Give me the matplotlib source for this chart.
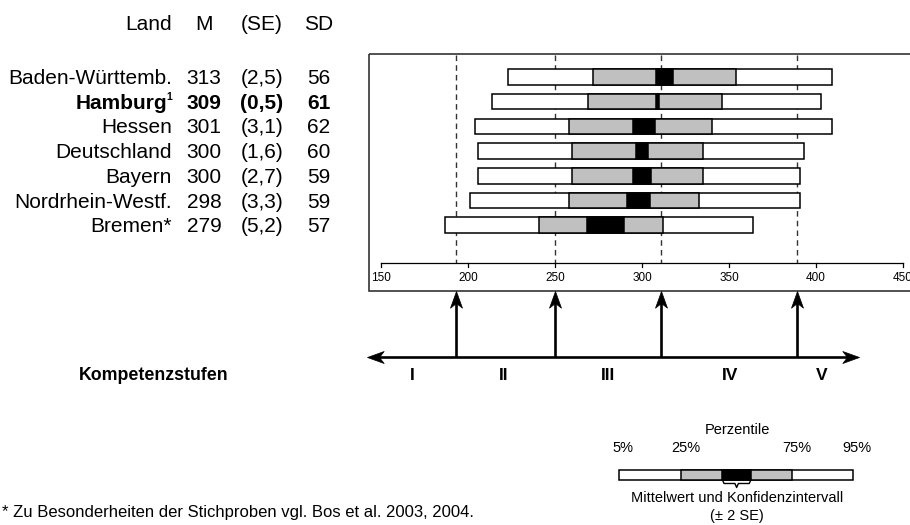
import numpy as np
import matplotlib
matplotlib.use("Agg")
import matplotlib.pyplot as plt
from matplotlib.patches import Rectangle
from matplotlib.path import Path
from matplotlib.markers import MarkerStyle
from matplotlib.transforms import Affine2D

plt.rcParams['font.family'] = ['Liberation Sans', 'DejaVu Sans']

# Daten
laender = ["Baden-Württemb.", "Hamburg", "Hessen", "Deutschland", "Bayern", "Nordrhein-Westf.", "Bremen*"]
mittel = [313, 309, 301, 300, 300, 298, 279]
se = [2.5, 0.5, 3.1, 1.6, 2.7, 3.3, 5.2]
sd = [56, 61, 62, 60, 59, 59, 57]
p05 = [223, 214, 204, 206, 206, 201, 187]
p25 = [272, 269, 258, 260, 260, 258, 241]
p75 = [354, 346, 340, 335, 335, 333, 312]
p95 = [409, 403, 409, 393, 391, 391, 364]

stufen_grenzen = [193, 250, 311, 389]
stufen = ["I", "II", "III", "IV", "V"]
stufen_pos = [168, 220.5, 280.5, 350.5, 403.5]
ticks = [150, 200, 250, 300, 350, 400, 450]
pfeil_bereich = [142, 425]

# pixel -> score (x), y bleibt in pixel
def sx(px):
    return 150 + (px - 381) / 1.74

GRAU = "#c0c0c0"
DUNKEL = "#333333"

fig = plt.figure(figsize=(9.1, 5.25), dpi=100)
ax = fig.add_axes([0, 0, 1, 1])
ax.set_xlim(sx(0), sx(910))
ax.set_ylim(525, 0)
ax.axis('off')

# rahmen
ax.add_patch(Rectangle((sx(369), 54), sx(930) - sx(369), 291 - 54, fill=False,
                       edgecolor=DUNKEL, lw=1.2, clip_on=False, zorder=1))

# gestrichelte stufengrenzen
for g in stufen_grenzen:
    ax.plot([g, g], [55, 262.5], color=DUNKEL, lw=1, dashes=(4, 3), zorder=2)

# balken
row_y = [77 + 24.7 * i for i in range(len(laender))]
h = 15.5
for i, y in enumerate(row_y):
    lo, hi = mittel[i] - 2 * se[i], mittel[i] + 2 * se[i]
    ax.add_patch(Rectangle((p05[i], y - h / 2), p95[i] - p05[i], h, facecolor="white",
                           edgecolor="black", lw=1.1, zorder=3))
    ax.add_patch(Rectangle((p25[i], y - h / 2), p75[i] - p25[i], h, facecolor=GRAU,
                           edgecolor="black", lw=1.1, zorder=4))
    ax.add_patch(Rectangle((lo, y - h / 2), hi - lo, h, facecolor="black",
                           edgecolor="black", lw=1.1, zorder=5))

# skala
ax.plot([ticks[0], ticks[-1]], [262.5, 262.5], color="black", lw=0.9, zorder=3)
for t in ticks:
    ax.plot([t, t], [262.5, 267], color="black", lw=0.9, zorder=3)
    ax.text(t, 278, str(t), ha="center", va="center", fontsize=8.5)

# tabelle
kw = dict(va="center", fontsize=15)
ax.text(sx(172), 25, "Land", ha="right", **kw)
ax.text(sx(204), 25, "M", ha="center", **kw)
ax.text(sx(262), 25, "(SE)", ha="center", **kw)
ax.text(sx(319), 25, "SD", ha="center", **kw)
for i, y in enumerate(row_y):
    fw = "bold" if laender[i] == "Hamburg" else "normal"
    yt = y + 1.5
    if laender[i] == "Hamburg":
        ax.text(sx(167), yt, laender[i], ha="right", fontweight=fw, **kw)
        ax.text(sx(172.5), yt - 6, "1", ha="right", va="center", fontsize=7.5, fontweight=fw)
    else:
        ax.text(sx(172), yt, laender[i], ha="right", fontweight=fw, **kw)
    ax.text(sx(204), yt, str(mittel[i]), ha="center", fontweight=fw, **kw)
    ax.text(sx(262), yt, "(" + f"{se[i]:.1f}".replace(".", ",") + ")", ha="center", fontweight=fw, **kw)
    ax.text(sx(319), yt, str(sd[i]), ha="center", fontweight=fw, **kw)

# pfeilspitzen
spitze = Path([(0, 0), (-1, 0.36), (-0.72, 0), (-1, -0.36), (0, 0)],
              [Path.MOVETO, Path.LINETO, Path.LINETO, Path.LINETO, Path.CLOSEPOLY])

def kopf(x, y, winkel):
    m = MarkerStyle(spitze, transform=Affine2D().rotate_deg(winkel))
    ax.plot([x], [y], marker=m, markersize=24, color="black", mec="black", mew=0.5,
            clip_on=False, zorder=6)

y_pfeil = 356.7
ax.plot([pfeil_bereich[0] + 5, pfeil_bereich[1] - 5], [y_pfeil, y_pfeil], color="black",
        lw=1.9, solid_capstyle="butt", clip_on=False)
kopf(pfeil_bereich[0], y_pfeil, 180)
kopf(pfeil_bereich[1], y_pfeil, 0)
for g in stufen_grenzen:
    ax.plot([g, g], [y_pfeil, 299], color="black", lw=1.9, solid_capstyle="butt")
    kopf(g, 291, 90)

for s, p in zip(stufen, stufen_pos):
    ax.text(p, 376, s, ha="center", va="center", fontsize=12.5, fontweight="bold")
ax.text(sx(229), 376, "Kompetenzstufen", ha="right", va="center", fontsize=12.8, fontweight="bold")

# legende
lg = [sx(619.3), sx(681), sx(722.3), sx(751), sx(791.7), sx(853.3)]
ly, lh = 474.5, 10
ax.add_patch(Rectangle((lg[0], ly - lh / 2), lg[5] - lg[0], lh, facecolor="white", edgecolor="black", lw=1.1))
ax.add_patch(Rectangle((lg[1], ly - lh / 2), lg[4] - lg[1], lh, facecolor=GRAU, edgecolor="black", lw=1.1))
ax.add_patch(Rectangle((lg[2], ly - lh / 2), lg[3] - lg[2], lh, facecolor="black", edgecolor="black", lw=1.1))
b0, b1 = lg[2], lg[3]
bm = (b0 + b1) / 2
yb = ly + lh / 2
ax.plot([b0, b0 + 1, bm - 1, bm, bm + 1, b1 - 1, b1],
        [yb, yb + 4, yb + 4, yb + 8, yb + 4, yb + 4, yb], color="black", lw=1)

ax.text(sx(737), 430, "Perzentile", ha="center", va="center", fontsize=10.5)
for lab, px in zip(["5%", "25%", "75%", "95%"], [623, 686, 797, 857]):
    ax.text(sx(px), 448, lab, ha="center", va="center", fontsize=10.5)
ax.text(sx(737), 498, "Mittelwert und Konfidenzintervall", ha="center", va="center", fontsize=10.5)
ax.text(sx(737), 516, "(± 2 SE)", ha="center", va="center", fontsize=10.5)

ax.text(sx(2), 512, "* Zu Besonderheiten der Stichproben vgl. Bos et al. 2003, 2004.",
        ha="left", va="center", fontsize=12)

fig.savefig("out.png", dpi=100)
